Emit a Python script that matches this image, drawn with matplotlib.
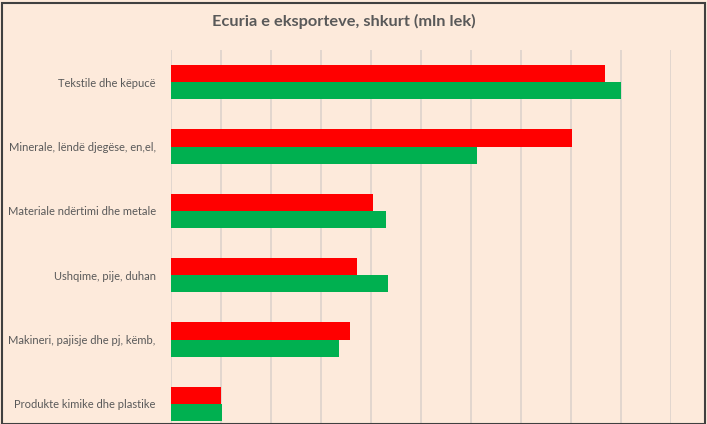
import numpy as np
import matplotlib.pyplot as plt
from matplotlib.patches import Rectangle

categories = ["Tekstile dhe këpucë", "Minerale, lëndë djegëse, en,el,",
              "Materiale ndërtimi dhe metale", "Ushqime, pije, duhan",
              "Makineri, pajisje dhe pj, këmb,", "Produkte kimike dhe plastike"]
red_vals = [8670, 8020, 4030, 3710, 3570, 990]
green_vals = [8990, 6110, 4300, 4330, 3360, 1010]

bg = "#FDEADB"
plt.rcParams['font.family'] = ['Lato', 'DejaVu Sans']

fig = plt.figure(figsize=(7.07, 4.24), dpi=100, facecolor=bg)
ax = fig.add_axes([171/707, 1 - 436/424, 500/707, 386/424])
ax.set_facecolor(bg)

y = np.arange(len(categories))
h = 0.265
ax.barh(y - h/2, red_vals, height=h, color="#FF0000", zorder=3)
ax.barh(y + h/2, green_vals, height=h, color="#00B050", zorder=3)

ax.set_ylim(len(categories) - 0.5, -0.5)
ax.set_xlim(0, 10000)
ax.set_xticks(np.arange(0, 10001, 1000))
ax.xaxis.grid(True, color="#DDD3CC", linewidth=1.2, zorder=0)
ax.tick_params(axis='x', bottom=False, labelbottom=False)
ax.set_yticks(y)
ax.set_yticklabels(categories, fontsize=8, color="#595959")
ax.tick_params(axis='y', length=0, pad=11)
for s in ax.spines.values():
    s.set_visible(False)

fig.text(344/707, 1 - 21/424, "Ecuria e eksporteve, shkurt (mln lek)",
         ha='center', va='center', fontsize=11.8, fontweight='bold', color="#595959")

fig.patches.append(Rectangle((0.003, 0.0), 0.994, 0.994, transform=fig.transFigure,
                             fill=False, edgecolor="#404040", linewidth=1.5))

fig.savefig("out.png", dpi=100, facecolor=bg)
